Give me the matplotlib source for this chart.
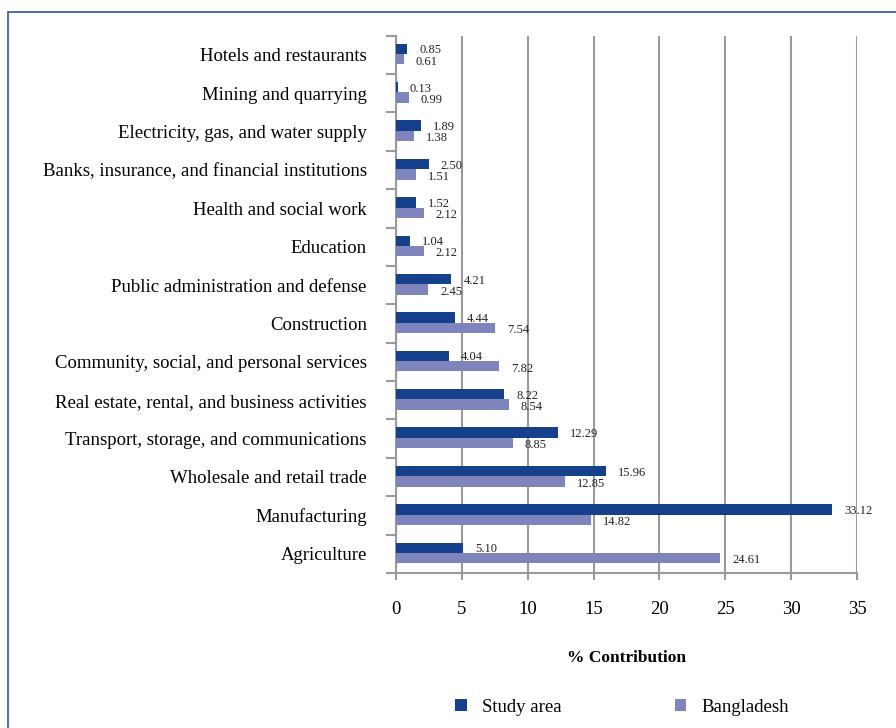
import numpy as np
import matplotlib.pyplot as plt
from matplotlib.patches import Rectangle

# sectors, listed top to bottom
sectors = [
    "Hotels and restaurants",
    "Mining and quarrying",
    "Electricity, gas, and water supply",
    "Banks, insurance, and financial institutions",
    "Health and social work",
    "Education",
    "Public administration and defense",
    "Construction",
    "Community, social, and personal services",
    "Real estate, rental, and business activities",
    "Transport, storage, and communications",
    "Wholesale and retail trade",
    "Manufacturing",
    "Agriculture",
]
study_area = [0.85, 0.13, 1.89, 2.50, 1.52, 1.04, 4.21, 4.44, 4.04, 8.22, 12.29, 15.96, 33.12, 5.10]
bangladesh = [0.61, 0.99, 1.38, 1.51, 2.12, 2.12, 2.45, 7.54, 7.82, 8.54, 8.85, 12.85, 14.82, 24.61]

dark = "#15408C"
light = "#7F84BC"
grey = "#9A9A9A"
plt.rcParams["font.family"] = ["Liberation Serif", "DejaVu Serif"]

fig = plt.figure(figsize=(8.96, 7.28), dpi=100)
ax = fig.add_axes([0.442, 0.213, 0.5145, 0.738])

# outer frame
fig.patches.append(Rectangle((8 / 896, -0.05), 1.2, 1 - 12 / 728 + 0.05,
                             transform=fig.transFigure, fill=False,
                             edgecolor="#2E55A3", linewidth=1.2))

y = np.arange(len(sectors))
h = 0.27
ax.barh(y - h / 2 - 0.02, study_area, height=h, color=dark, label="Study area", zorder=3)
ax.barh(y + h / 2 - 0.02, bangladesh, height=h, color=light, label="Bangladesh", zorder=3)

for yi, a, b in zip(y, study_area, bangladesh):
    ax.text(a + 0.9, yi - h / 2 + 0.02, f"{a:.2f}", fontsize=9, va="center", ha="left", color="#222222", zorder=4)
    ax.text(b + 0.9, yi + h / 2 + 0.04, f"{b:.2f}", fontsize=9, va="center", ha="left", color="#222222", zorder=4)

ax.set_xlim(0, 35)
ax.set_ylim(len(sectors) - 0.5, -0.5)
ax.set_xticks(range(0, 36, 5))
ax.set_yticks(y)
ax.set_yticklabels(sectors, fontsize=13.5)
ax.tick_params(axis="y", length=0, pad=21)
ax.set_yticks(np.arange(-0.5, len(sectors)), minor=True)
ax.tick_params(axis="y", which="minor", length=7, color=grey, width=1.5)
ax.tick_params(axis="x", length=5, color=grey, width=1.5, labelsize=13.5, pad=15.5)

ax.grid(axis="x", color=grey, linewidth=1.5, zorder=0)
for s in ["top", "right"]:
    ax.spines[s].set_visible(False)
for s in ["left", "bottom"]:
    ax.spines[s].set_color(grey)
    ax.spines[s].set_linewidth(1.5)

ax.set_xlabel("% Contribution", fontsize=12.5, fontweight="bold", labelpad=23)

fig.legend(loc="center", bbox_to_anchor=(622 / 896, 1 - 707 / 728), ncol=2,
           frameon=False, fontsize=13.5, columnspacing=6.05, handlelength=0.6,
           handleheight=0.6, handletextpad=0.8)

fig.savefig("out.png", dpi=100)
